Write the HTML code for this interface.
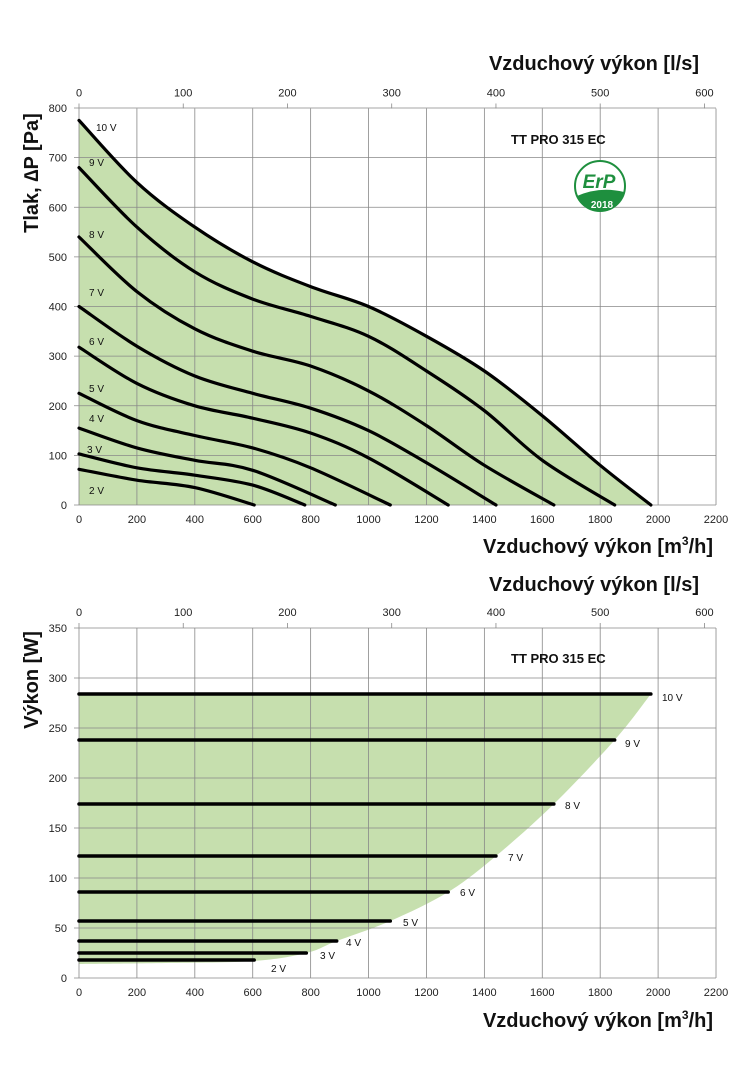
<!DOCTYPE html>
<html><head><meta charset="utf-8"><style>
body{margin:0;background:#fff}
svg{display:block;font-family:"Liberation Sans","DejaVu Sans",sans-serif}
</style></head><body>
<svg id="s" width="734" height="1080" viewBox="0 0 734 1080" xmlns="http://www.w3.org/2000/svg">
<rect width="734" height="1080" fill="#fff"/>
<g id="g"></g>
<g font-weight="bold" fill="#111">
<text x="699" y="70" font-size="20" text-anchor="end">Vzduchový výkon [l/s]</text>
<text x="713" y="553" font-size="20" text-anchor="end">Vzduchový výkon [m<tspan font-size="12" dy="-8">3</tspan><tspan dy="8">/h]</tspan></text>
<text x="699" y="591" font-size="20" text-anchor="end">Vzduchový výkon [l/s]</text>
<text x="713" y="1027" font-size="20" text-anchor="end">Vzduchový výkon [m<tspan font-size="12" dy="-8">3</tspan><tspan dy="8">/h]</tspan></text>
<text transform="translate(38,173) rotate(-90)" font-size="20" text-anchor="middle">Tlak, ∆P [Pa]</text>
<text transform="translate(38,680) rotate(-90)" font-size="20" text-anchor="middle">Výkon [W]</text>
<text x="511" y="144" font-size="13">TT PRO 315 EC</text>
<text x="511" y="663" font-size="13">TT PRO 315 EC</text>
</g>
<g>
<circle cx="600" cy="186" r="25" fill="#fff" stroke="#1e8f3e" stroke-width="2"/>
<path d="M577,196 Q600,186 624,192 Q618,211 600,211 Q583,210 577,196Z" fill="#1e8f3e"/>
<text x="599" y="188" font-size="19" font-weight="bold" fill="#1e8f3e" text-anchor="middle" font-style="italic">ErP</text>
<text x="602" y="208" font-size="10" font-weight="bold" fill="#fff" text-anchor="middle">2018</text>
</g>
</svg>
<script>
const g=document.getElementById('g');let h='';
const X=x=>79+x*0.28955;
const Y1=p=>505-p*0.49625;
const Y2=w=>978-w;
function cr(pts){let d='M'+pts[0][0].toFixed(1)+','+pts[0][1].toFixed(1);
for(let i=0;i<pts.length-1;i++){const p0=pts[i-1]||pts[i],p1=pts[i],p2=pts[i+1],p3=pts[i+2]||p2;
const c1=[p1[0]+(p2[0]-p0[0])/6,p1[1]+(p2[1]-p0[1])/6],c2=[p2[0]-(p3[0]-p1[0])/6,p2[1]-(p3[1]-p1[1])/6];
d+=`C${c1[0].toFixed(1)},${c1[1].toFixed(1)} ${c2[0].toFixed(1)},${c2[1].toFixed(1)} ${p2[0].toFixed(1)},${p2[1].toFixed(1)}`;}return d;}
function axes(top,bot,yTicks,yv){
 for(let i=0;i<=11;i++){const x=X(i*200);h+=`<line x1="${x}" y1="${top}" x2="${x}" y2="${bot}" stroke="#888" stroke-width="0.8"/>`;
  h+=`<text x="${x}" y="${bot+18}" font-size="11" text-anchor="middle" fill="#222">${i*200}</text>`;}
 yTicks.forEach(v=>{const y=yv(v);h+=`<line x1="74" y1="${y}" x2="716" y2="${y}" stroke="#888" stroke-width="0.8"/>`;
  h+=`<text x="67" y="${y+4}" font-size="11" text-anchor="end" fill="#222">${v}</text>`;});
 for(let i=0;i<=6;i++){const x=X(i*360);h+=`<line x1="${x}" y1="${top-5}" x2="${x}" y2="${top}" stroke="#888" stroke-width="0.8"/>`;
  h+=`<text x="${x}" y="${top-12}" font-size="11" text-anchor="middle" fill="#222">${i*100}</text>`;}
}
const c10=[[0,775],[200,650],[400,560],[600,490],[800,440],[1000,400],[1200,340],[1400,270],[1600,180],[1800,80],[1975,0]];
const cur=[c10,
[[0,680],[200,560],[400,470],[600,415],[800,380],[1000,340],[1200,270],[1400,190],[1600,90],[1850,0]],
[[0,540],[200,430],[400,355],[600,310],[800,280],[1000,230],[1200,160],[1400,80],[1640,0]],
[[0,400],[200,320],[400,260],[600,225],[800,195],[1000,150],[1200,85],[1440,0]],
[[0,318],[200,245],[400,200],[600,175],[800,145],[1000,95],[1275,0]],
[[0,225],[200,170],[400,140],[600,115],[800,75],[1075,0]],
[[0,155],[200,115],[400,90],[600,70],[885,0]],
[[0,103],[200,75],[400,60],[600,40],[780,0]],
[[0,72],[200,50],[400,35],[605,0]]];
const P=a=>a.map(p=>[X(p[0]),Y1(p[1])]);
h+=`<path d="${cr(P(c10))}L${X(0)},${Y1(0)}Z" fill="#c6dfae"/>`;
axes(108.5,505,[0,100,200,300,400,500,600,700,800],Y1);
cur.forEach(c=>h+=`<path d="${cr(P(c))}" fill="none" stroke="#000" stroke-width="3.2" stroke-linecap="round"/>`);
[["10 V",96,131],["9 V",89,166],["8 V",89,238],["7 V",89,296],["6 V",89,345],["5 V",89,392],["4 V",89,422],["3 V",87,453],["2 V",89,494]].forEach(l=>h+=`<text x="${l[1]}" y="${l[2]}" font-size="10" fill="#111">${l[0]}</text>`);
const ends=[[1975,284],[1850,238],[1640,174],[1440,122],[1275,86],[1075,57],[890,37],[785,25],[605,18]];
const bnd=[[1975,284],[1850,238],[1640,174],[1440,122],[1275,86],[1075,57],[890,37],[785,25],[605,17],[300,15],[0,14]].map(p=>[X(p[0]),Y2(p[1])]);
h+=`<path d="M${X(0)},${Y2(284)}${cr(bnd).replace('M','L')}Z" fill="#c6dfae"/>`;
axes(628,978,[0,50,100,150,200,250,300,350],Y2);
ends.forEach(e=>h+=`<line x1="${X(0)}" y1="${Y2(e[1])}" x2="${X(e[0])}" y2="${Y2(e[1])}" stroke="#000" stroke-width="3.5" stroke-linecap="round"/>`);
[["10 V",662,701],["9 V",625,747],["8 V",565,809],["7 V",508,861],["6 V",460,896],["5 V",403,926],["4 V",346,946],["3 V",320,959],["2 V",271,972]].forEach(l=>h+=`<text x="${l[1]}" y="${l[2]}" font-size="10" fill="#111">${l[0]}</text>`);
g.innerHTML=h;
</script>
</body></html>
